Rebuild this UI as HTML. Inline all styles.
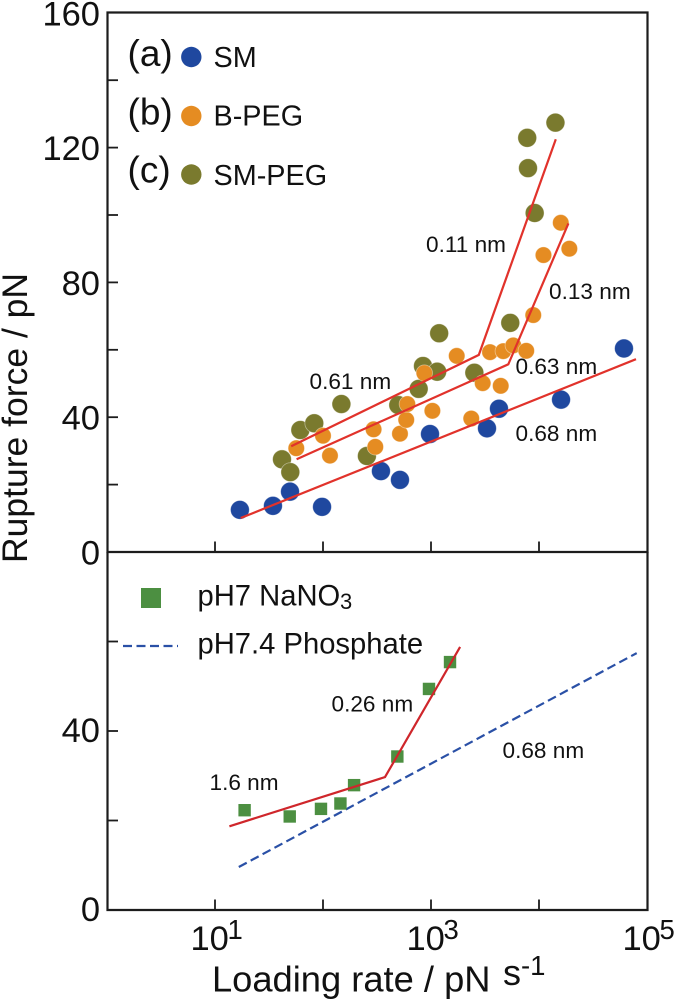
<!DOCTYPE html>
<html>
<head>
<meta charset="utf-8">
<title>Rupture force vs loading rate</title>
<style>
html,body{margin:0;padding:0;background:#fff;}
svg{display:block;font-family:"Liberation Sans",sans-serif;fill:#111;}
</style>
</head>
<body>
<svg id="chart" xmlns="http://www.w3.org/2000/svg" width="677" height="1000" viewBox="0 0 677 1000"></svg>
<script>
// ---- data ----
const smRate = [17, 34.4, 49.5, 98, 344, 516, 979, 3300, 4260, 16000, 61200];
const smForce = [12.5, 13.7, 17.9, 13.4, 24, 21.4, 35, 36.7, 42.5, 45.2, 60.4];
const bpegRate = [56.6, 100, 116, 294, 305, 516, 590, 604, 1030, 867, 1730, 2360, 3010, 4420, 3520, 4670, 5780, 7620, 8850, 15900, 19100, 11000];
const bpegForce = [30.8, 34.5, 28.6, 36.4, 31.2, 35.1, 39.2, 43.9, 41.9, 53.1, 58.2, 39.6, 50.1, 49.3, 59.3, 59.6, 61.3, 59.7, 70.3, 97.7, 90, 88.1];
const smpegRate = [41.7, 49.8, 61.7, 83, 148, 255, 498, 769, 843, 1140, 1190, 2520, 5420, 9120, 7910, 7780, 14200];
const smpegForce = [27.5, 23.7, 36.2, 38.2, 43.9, 28.5, 43.6, 48.4, 55.2, 53.5, 64.9, 53.2, 68, 100.6, 113.9, 122.9, 127.4];
const fitSmRate = [17.3, 79100];
const fitSmForce = [10.1, 57.2];
const fitBpegRate = [57, 5200, 18700];
const fitBpegForce = [27.5, 55.7, 97.5];
const fitSmpegRate = [50.8, 2770, 14300];
const fitSmpegForce = [31.4, 58.5, 122.5];
const nano3Rate = [18.8, 49.2, 95.8, 145, 194, 488, 958, 1500];
const nano3Force = [22.3, 20.9, 22.6, 23.8, 27.9, 34.3, 49.4, 55.4];
const fitNano3Rate = [13.6, 375, 1860];
const fitNano3Force = [18.7, 29.7, 58.8];
const phosphateRate = [16.6, 80300];
const phosphateForce = [9.6, 57.4];
const xTickExponents = [1, 2, 3, 4];
const xLabelExponents = [1, 3, 5];
const topYTicks = [20, 40, 60, 80, 100, 120, 140];
const topYLabels = [0, 40, 80, 120, 160];
const bottomYTicks = [20, 40, 60];
const bottomYLabels = [0, 40];

// ---- axis functions ----
const xPx = r => 107 + 108 * Math.log10(r);
const yTop = f => 552 - 3.37 * f;
const yBottom = f => 910 - 4.475 * f;

const svg = document.getElementById('chart');
const NS = 'http://www.w3.org/2000/svg';
function make(tag, attrs, text) {
  const el = document.createElementNS(NS, tag);
  for (const k in attrs) el.setAttribute(k, attrs[k]);
  if (text !== undefined) el.textContent = text;
  svg.appendChild(el);
  return el;
}
const AXIS = '#1c1c1c';

// frames
let el = make('path', {d: 'M107.5 12.5H647.5V552H107.5Z', fill: 'none', stroke: AXIS, 'stroke-width': 2.2});


el = make('path', {d: 'M107.5 552V910H647.5V552', fill: 'none', stroke: AXIS, 'stroke-width': 2.2});



// ticks
xTickExponents.forEach(e => {
  const x = xPx(Math.pow(10, e));
  let t = make('line', {x1: x, x2: x, y1: 552, y2: 541.5, stroke: AXIS, 'stroke-width': 1.8});
  
  
  t = make('line', {x1: x, x2: x, y1: 910, y2: 899.5, stroke: AXIS, 'stroke-width': 1.8});
  
  
});
topYTicks.forEach(v => {
  const t = make('line', {x1: 107.5, x2: 118, y1: yTop(v), y2: yTop(v), stroke: AXIS, 'stroke-width': 1.8});
  
  
});
bottomYTicks.forEach(v => {
  const t = make('line', {x1: 107.5, x2: 118, y1: yBottom(v), y2: yBottom(v), stroke: AXIS, 'stroke-width': 1.8});
  
  
});

// tick labels
topYLabels.forEach(v => {
  const t = make('text', {x: 100, y: yTop(v) + 12.5, 'text-anchor': 'end', 'font-size': 34.5}, String(v));
  
  
});
bottomYLabels.forEach(v => {
  const t = make('text', {x: 100, y: yBottom(v) + 11, 'text-anchor': 'end', 'font-size': 34.5}, String(v));
  
  
});
xLabelExponents.forEach(e => {
  const x = xPx(Math.pow(10, e));
  const t = make('text', {x: x - 24.5, y: 950, 'font-size': 34.5}, '10');
  
  
  const s = make('text', {x: x + 12.5, y: 939, 'font-size': 27.5}, String(e));
  
  
});

// series
function dots(rates, forces, r, color, name) {
  rates.forEach((rate, i) => {
    const c = make('circle', {cx: xPx(rate), cy: yTop(forces[i]), r: r, fill: color, stroke: '#fff', 'stroke-opacity': 0.45, 'stroke-width': 0.8});
    
    
  });
}
dots(smpegRate, smpegForce, 9.4, '#7a7a2e', 'sm-peg-point');
dots(bpegRate, bpegForce, 8.2, '#e58c22', 'b-peg-point');
dots(smRate, smForce, 9.4, '#1f489f', 'sm-point');

function poly(rates, forces, yFn, color, name, dash) {
  const pts = rates.map((rate, i) => xPx(rate).toFixed(1) + ',' + yFn(forces[i]).toFixed(1)).join(' ');
  const attrs = {points: pts, fill: 'none', stroke: color, 'stroke-width': 2.2};
  if (dash) attrs['stroke-dasharray'] = dash;
  const p = make('polyline', attrs);
  
  
}
poly(fitSmRate, fitSmForce, yTop, '#e1322b', 'sm-fit-line');
poly(fitBpegRate, fitBpegForce, yTop, '#e1322b', 'b-peg-fit-line');
poly(fitSmpegRate, fitSmpegForce, yTop, '#e1322b', 'sm-peg-fit-line');

poly(phosphateRate, phosphateForce, yBottom, '#2a50a6', 'phosphate-dashed-line', '9 4.5');
nano3Rate.forEach((rate, i) => {
  const q = make('rect', {x: xPx(rate) - 6.2, y: yBottom(nano3Force[i]) - 6.2, width: 12.4, height: 12.4, fill: '#4c8f41'});
  
  
});
poly(fitNano3Rate, fitNano3Force, yBottom, '#cf262b', 'nano3-fit-line');

// legends
el = make('circle', {cx: 191.3, cy: 57, r: 10.2, fill: '#1f489f'});


el = make('circle', {cx: 191.3, cy: 116, r: 10.2, fill: '#e58c22'});


el = make('circle', {cx: 191.3, cy: 174.5, r: 10.2, fill: '#7a7a2e'});


el = make('text', {x: 127.5, y: 66, 'font-size': 37}, '(a)');


el = make('text', {x: 127.5, y: 124.5, 'font-size': 37}, '(b)');


el = make('text', {x: 127.5, y: 182.5, 'font-size': 37}, '(c)');


el = make('text', {x: 213.5, y: 67, 'font-size': 28.8}, 'SM');


el = make('text', {x: 213.5, y: 125.5, 'font-size': 28.8}, 'B-PEG');


el = make('text', {x: 213.5, y: 185, 'font-size': 28.8}, 'SM-PEG');



el = make('rect', {x: 141, y: 588, width: 20, height: 20, fill: '#4c8f41'});


el = make('line', {x1: 123, x2: 178, y1: 646, y2: 646, stroke: '#2a50a6', 'stroke-width': 2.2, 'stroke-dasharray': '9 4.5'});


el = make('text', {x: 197.5, y: 605.5, 'font-size': 29.2}, 'pH7 NaNO');


el = make('text', {x: 340, y: 609, 'font-size': 22}, '3');


el = make('text', {x: 197.5, y: 653.5, 'font-size': 29.2}, 'pH7.4 Phosphate');



// annotations
el = make('text', {x: 426, y: 252, 'font-size': 22.6}, '0.11 nm');


el = make('text', {x: 549, y: 299, 'font-size': 22.6}, '0.13 nm');


el = make('text', {x: 309.5, y: 389, 'font-size': 22.6}, '0.61 nm');


el = make('text', {x: 515.5, y: 374, 'font-size': 22.6}, '0.63 nm');


el = make('text', {x: 515.5, y: 441, 'font-size': 22.6}, '0.68 nm');


el = make('text', {x: 209.5, y: 790, 'font-size': 22.6}, '1.6 nm');


el = make('text', {x: 331.5, y: 711.5, 'font-size': 22.6}, '0.26 nm');


el = make('text', {x: 502.5, y: 758, 'font-size': 22.6}, '0.68 nm');



// axis titles
el = make('text', {x: 0, y: 0, 'font-size': 35.5, transform: 'translate(27 563) rotate(-90)'}, 'Rupture force / pN');


el = make('text', {x: 212, y: 991.5, 'font-size': 36.3}, 'Loading rate / pN');


el = make('text', {x: 503, y: 985, 'font-size': 36}, 's');


el = make('text', {x: 521, y: 975, 'font-size': 27.5}, '-1');


</script>
</body>
</html>
